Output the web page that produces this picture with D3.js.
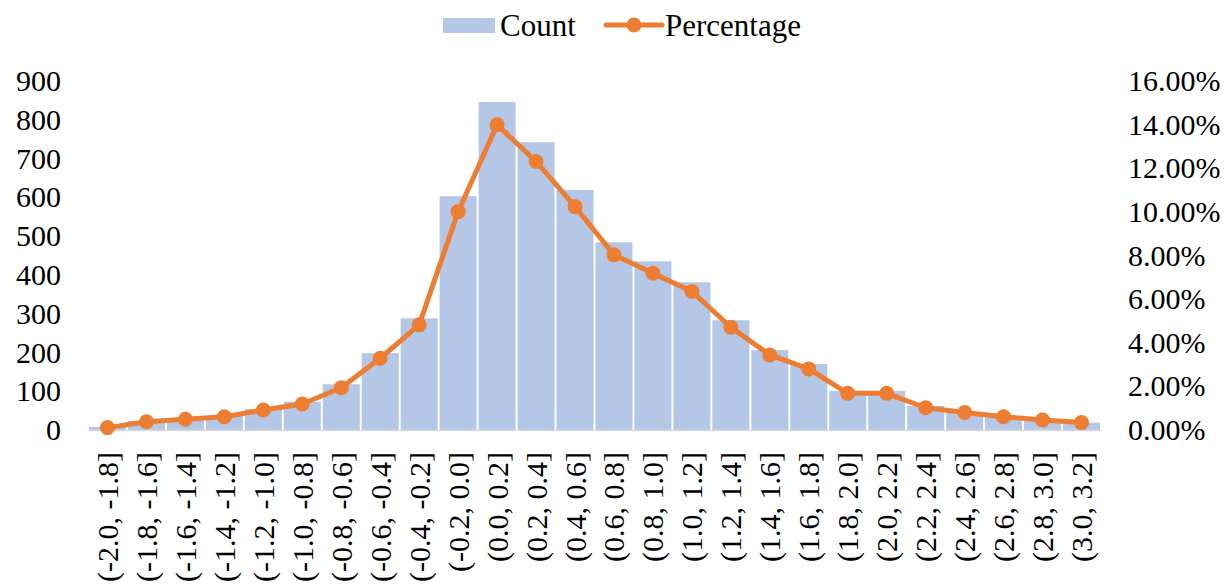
<!DOCTYPE html>
<html>
<head>
<meta charset="utf-8">
<script src="https://cdn.jsdelivr.net/npm/d3@7"></script>
<style>
  body { margin: 0; background: #fff; }
  svg text { font-family: "Liberation Serif", "Times New Roman", serif; fill: #000; }
</style>
</head>
<body>
<svg id="chart"></svg>
<script>
// Interval categories
const categories = [
  "(-2.0, -1.8]", "(-1.8, -1.6]", "(-1.6, -1.4]", "(-1.4, -1.2]", "(-1.2, -1.0]",
  "(-1.0, -0.8]", "(-0.8, -0.6]", "(-0.6, -0.4]", "(-0.4, -0.2]", "(-0.2, 0.0]",
  "(0.0, 0.2]", "(0.2, 0.4]", "(0.4, 0.6]", "(0.6, 0.8]", "(0.8, 1.0]",
  "(1.0, 1.2]", "(1.2, 1.4]", "(1.4, 1.6]", "(1.6, 1.8]", "(1.8, 2.0]",
  "(2.0, 2.2]", "(2.2, 2.4]", "(2.4, 2.6]", "(2.6, 2.8]", "(2.8, 3.0]", "(3.0, 3.2]"
];

// Count per interval (left axis)
const counts = [8, 23, 29, 37, 54, 73, 118, 198, 288, 603, 846, 742, 619, 484, 435,
  381, 283, 206, 170, 101, 101, 62, 45, 36, 28, 19];

// Percentage per interval (right axis)
const percentages = [0.0011, 0.0038, 0.0049, 0.0061, 0.0092, 0.0119, 0.0194, 0.0329, 0.0482,
  0.1001, 0.1399, 0.1231, 0.1024, 0.0803, 0.0719, 0.0635, 0.0471, 0.0344, 0.0280, 0.0168,
  0.0168, 0.0102, 0.0080, 0.0061, 0.0046, 0.0034];

const leftTicks = [0, 100, 200, 300, 400, 500, 600, 700, 800, 900];
const rightTicks = [0, 0.02, 0.04, 0.06, 0.08, 0.10, 0.12, 0.14, 0.16];

const seriesNames = ["Count", "Percentage"];

const width = 1225, height = 586;
const margin = { top: 81, right: 124, bottom: 156, left: 88 };
const innerW = width - margin.left - margin.right;
const innerH = height - margin.top - margin.bottom;

const barColor = "#B4C7E7";
const lineColor = "#ED7D31";

const svg = d3.select("#chart")
  .attr("width", width)
  .attr("height", height);

const chart = svg.append("g")
  .attr("transform", `translate(${margin.left},${margin.top})`);

// Scales
const xScale = d3.scaleBand()
  .domain(categories)
  .range([0, innerW])
  .paddingInner(0.05)
  .paddingOuter(0.025);

const yLeft = d3.scaleLinear().domain([0, 900]).range([innerH, 0]);
const yRight = d3.scaleLinear().domain([0, 0.16]).range([innerH, 0]);

// Bars
chart.selectAll(".bar")
  .data(counts)
  .join("rect")
  .attr("class", "bar")
  .attr("x", (d, i) => xScale(categories[i]))
  .attr("width", xScale.bandwidth())
  .attr("y", d => yLeft(d))
  .attr("height", d => innerH - yLeft(d))
  .attr("fill", barColor);

// X axis
const xAxisG = chart.append("g")
  .attr("transform", `translate(0,${innerH})`)
  .call(d3.axisBottom(xScale).tickSize(0).tickSizeOuter(0))
  .call(g => g.select(".domain").attr("stroke", "#D9D9D9").attr("stroke-width", 1.5));

xAxisG.selectAll("text")
  .attr("font-size", 30)
  .attr("text-anchor", "end")
  .attr("dy", "0.35em")
  .attr("transform", "translate(0,22) rotate(-90)")
  .attr("x", 0)
  .attr("y", 0);

// Left axis
chart.append("g")
  .call(d3.axisLeft(yLeft).tickValues(leftTicks).tickSize(0).tickPadding(27))
  .call(g => g.select(".domain").remove())
  .selectAll("text")
  .attr("font-size", 30);

// Right axis
chart.append("g")
  .attr("transform", `translate(${innerW},0)`)
  .call(d3.axisRight(yRight).tickValues(rightTicks).tickFormat(d3.format(".2%")).tickSize(0).tickPadding(27))
  .call(g => g.select(".domain").remove())
  .selectAll("text")
  .attr("font-size", 30);

// Percentage line
const line = d3.line()
  .x((d, i) => xScale(categories[i]) + xScale.bandwidth() / 2)
  .y(d => yRight(d));

chart.append("path")
  .datum(percentages)
  .attr("d", line)
  .attr("fill", "none")
  .attr("stroke", lineColor)
  .attr("stroke-width", 5)
  .attr("stroke-linejoin", "round");

chart.selectAll(".dot")
  .data(percentages)
  .join("circle")
  .attr("class", "dot")
  .attr("cx", (d, i) => xScale(categories[i]) + xScale.bandwidth() / 2)
  .attr("cy", d => yRight(d))
  .attr("r", 7.5)
  .attr("fill", lineColor);

// Legend
const legend = svg.append("g").attr("transform", "translate(443,25)");

legend.append("rect")
  .attr("x", 0).attr("y", -7)
  .attr("width", 52).attr("height", 15)
  .attr("fill", barColor);

legend.append("text")
  .attr("x", 57).attr("y", 0).attr("dy", "0.35em")
  .attr("font-size", 31)
  .text(seriesNames[0]);

legend.append("line")
  .attr("x1", 163).attr("x2", 219)
  .attr("y1", 0).attr("y2", 0)
  .attr("stroke", lineColor)
  .attr("stroke-width", 5)
  .attr("stroke-linecap", "round");

legend.append("circle")
  .attr("cx", 191).attr("cy", 0).attr("r", 7.5)
  .attr("fill", lineColor);

legend.append("text")
  .attr("x", 222).attr("y", 0).attr("dy", "0.35em")
  .attr("font-size", 31)
  .text(seriesNames[1]);
</script>
</body>
</html>
